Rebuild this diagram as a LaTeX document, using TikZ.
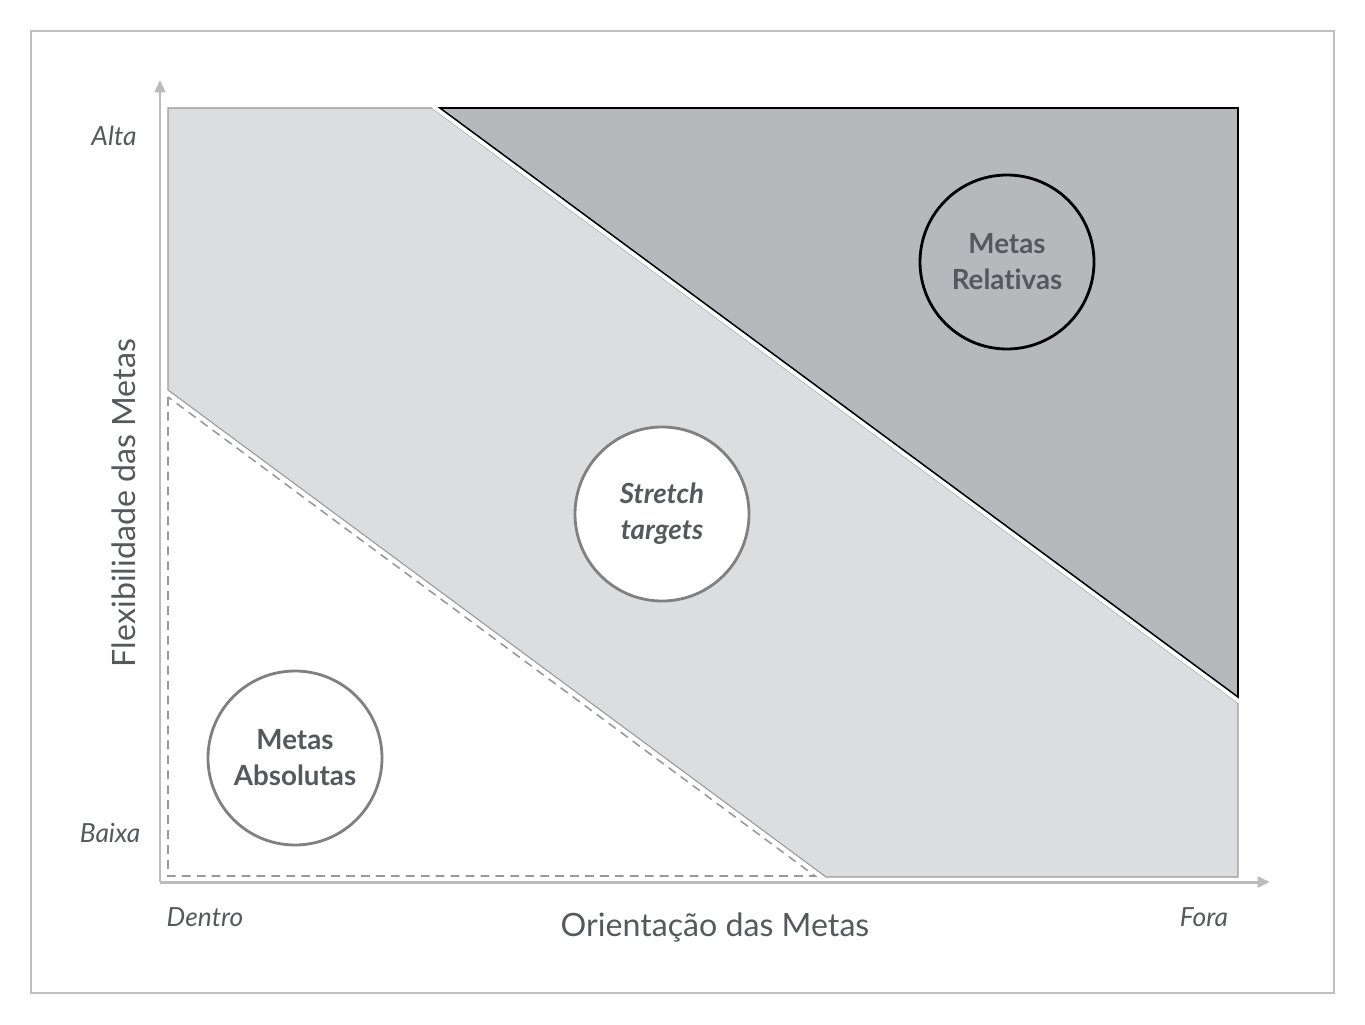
\documentclass[tikz,border=0pt]{standalone}
\usepackage{fontspec}
\setmainfont{Lato}[Ligatures=NoCommon]
\usetikzlibrary{arrows.meta}
\definecolor{lightzone}{HTML}{DCDDDF}
\definecolor{darkzone}{HTML}{B6B8BC}
\definecolor{axisgray}{HTML}{BBBBBB}
\definecolor{textgray}{HTML}{55585D}
\tikzset{
	goal/.style={circle, minimum size=174*0.02cm, inner sep=0pt, align=center, font=\fontsize{15.8}{20.5}\selectfont\bfseries, text=textgray, line width=1.6pt},
	axislabel/.style={font=\fontsize{15}{18}\selectfont\itshape, text=textgray},
	axistitle/.style={font=\fontsize{18.3}{22}\selectfont, text=textgray}
}

\begin{document}
\begin{tikzpicture}[x=0.02cm, y=-0.02cm]
		%%%%% START %%%%%
		\useasboundingbox (0, 0) rectangle (1365, 1024);
		\draw[color=black!25, line width=0.6pt] (31, 31) rectangle (1334, 993);
		
		% zones
		\draw[fill=lightzone, draw=black!40, line width=0.6pt] (168, 108) -- (432, 108) -- (1238, 703) -- (1238, 877) -- (826, 877) -- (168, 390) -- cycle;
		\fill[darkzone] (440, 108) -- (1238, 108) -- (1238, 697) -- cycle;
		\draw[white, line width=3.2pt] (434, 106) -- (1240, 701);
		\draw[line width=0.9pt] (440, 108) -- (1238, 108) -- (1238, 697) -- cycle;
		
		\draw[dashed, color=black!40, line width=0.9pt, dash pattern=on 5pt off 3.5pt] (168, 397) -- (168, 876) -- (815, 876) -- cycle;
		
		% axes
		\coordinate (origin) at (160, 882);
		\coordinate (ytip) at (160, 80);
		\coordinate (xtip) at (1270, 882);
		\draw[-{Triangle[length=7pt, width=6pt]}, color=axisgray, line width=1.7pt] (origin) -- (ytip);
		\draw[-{Triangle[length=7pt, width=6pt]}, color=axisgray, line width=1.7pt] (origin) -- (xtip);
		
		\node[axislabel] (alta) at (114, 136) {Alta};
		\node[axislabel] (baixa) at (110, 833) {Baixa};
		\node[axislabel] (dentro) at (205, 917) {Dentro};
		\node[axislabel] (fora) at (1204, 917) {Fora};
		\node[axistitle] (xtitle) at (715, 928) {Orientação das Metas};
		\node[axistitle, rotate=90] (ytitle) at (124, 503) {Flexibilidade das Metas};
		
		% goals
		\node[goal, draw=black] (relativas) at (1007, 262) {Metas\\Relativas};
		\node[goal, draw=black!50, fill=white] (stretch) at (662, 514) {\itshape Stretch\\\itshape targets};
		\node[goal, draw=black!50, fill=white] (absolutas) at (295, 758) {Metas\\Absolutas};
		%%%%% END %%%%%
\end{tikzpicture}
\end{document}
